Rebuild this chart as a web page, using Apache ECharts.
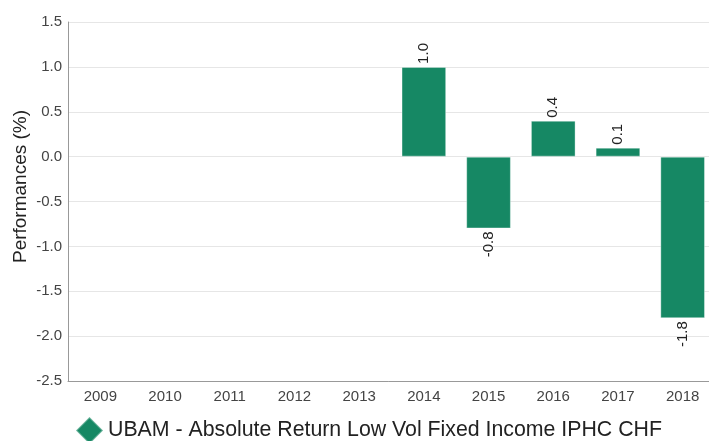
<!DOCTYPE html>
<html><head><meta charset="utf-8">
<script src="https://cdn.jsdelivr.net/npm/echarts@6/dist/echarts.min.js"></script>
<style>html,body{margin:0;padding:0;background:#fff;overflow:hidden}#c{width:709px;height:441px}</style>
</head><body><div id="c"></div>
<script>
const categories = ['2009','2010','2011','2012','2013','2014','2015','2016','2017','2018'];
const values = [null,null,null,null,null,1.0,-0.8,0.4,0.1,-1.8];
const seriesName = 'UBAM - Absolute Return Low Vol Fixed Income IPHC CHF';
const yTicks = {min:-2.5, max:1.5, interval:0.5};

const barColor = '#168864';
const data = values.map(v => v === null ? null : {
  value: v,
  label: v >= 0
    ? {position:'top', align:'left', verticalAlign:'middle'}
    : {position:'bottom', align:'right', verticalAlign:'middle'}
});

const font = 'Liberation Sans, Arial, sans-serif';
const chart = echarts.init(document.getElementById('c'));
chart.setOption({
  animation:false,
  textStyle:{fontFamily:font},
  grid:{left:68, top:22, width:647, height:359, outerBoundsMode:'none', containLabel:false},
  legend:{
    data:[seriesName], left:75, top:416, padding:0, icon:'diamond',
    itemWidth:27, itemHeight:27, itemGap:6,
    textStyle:{fontSize:21.3, color:'#222', fontFamily:font}
  },
  xAxis:{
    type:'category', data:categories,
    axisLine:{onZero:false, lineStyle:{color:'#999'}},
    axisTick:{show:false},
    axisLabel:{fontSize:15, color:'#444', margin:8}
  },
  yAxis:{
    type:'value', min:yTicks.min, max:yTicks.max, interval:yTicks.interval,
    name:'Performances (%)', nameLocation:'middle', nameGap:38, nameMoveOverlap:false,
    nameTextStyle:{fontSize:19, color:'#222', padding:[0,0,0,30]},
    axisLine:{show:true, lineStyle:{color:'#999'}},
    axisTick:{show:false},
    splitLine:{lineStyle:{color:'#e6e6e6'}},
    axisLabel:{fontSize:15, color:'#444', margin:6, formatter:v=>v.toFixed(1)}
  },
  series:[{
    name:seriesName, type:'bar', data:data, barWidth:'69%',
    itemStyle:{color:barColor, borderColor:'rgba(255,255,255,0.35)', borderWidth:1},
    label:{show:true, rotate:90, fontSize:15, color:'#222', distance:3,
      formatter:p=>p.value.toFixed(1)}
  }]
});
</script></body></html>
